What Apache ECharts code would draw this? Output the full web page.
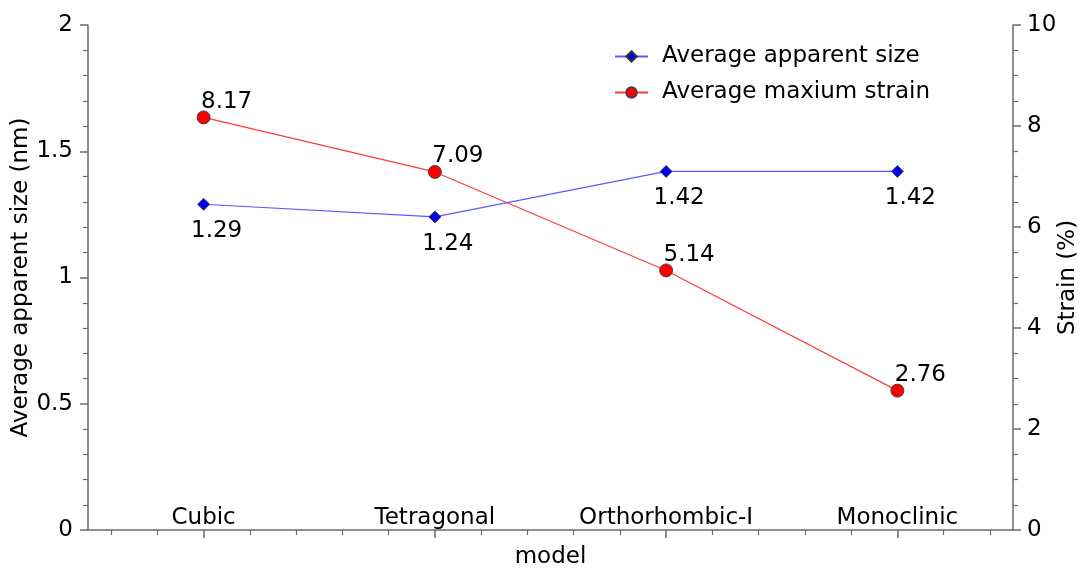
<!DOCTYPE html>
<html>
<head>
<meta charset="utf-8">
<script src="https://cdn.jsdelivr.net/npm/echarts@6/dist/echarts.min.js"></script>
<style>
  html, body { margin: 0; padding: 0; background: #fff; overflow: hidden; }
  #chart { width: 1079px; height: 570px; }
</style>
</head>
<body>
<div id="chart"></div>
<script>
// Crystal models on the x axis
const models = ['Cubic', 'Tetragonal', 'Orthorhombic-I', 'Monoclinic'];
// Average apparent size (nm), left axis
const apparentSize = [1.29, 1.24, 1.42, 1.42];
// Average maximum strain (%), right axis
const maxStrain = [8.17, 7.09, 5.14, 2.76];

const sizeTicks = { min: 0, max: 2, interval: 0.5 };
const strainTicks = { min: 0, max: 10, interval: 2 };

// Five sub-slots per model, used only to place the minor ticks on the x axis
const SUB = 5;
const subSlots = [];
models.forEach(function (m) { for (let k = 0; k < SUB; k++) subSlots.push(m + '-' + k); });

const FONT = 'DejaVu Sans';
const FS = 23;
const axisGray = '#6b6b6b';

const chart = echarts.init(document.getElementById('chart'), null, { renderer: 'canvas', width: 1079, height: 570 });

chart.setOption({
  animation: false,
  backgroundColor: '#ffffff',
  textStyle: { fontFamily: FONT, color: '#000' },
  grid: { left: 88, right: 66, top: 25, bottom: 40, containLabel: false, outerBoundsMode: 'none' },
  legend: {
    orient: 'vertical',
    left: 609,
    top: 40,
    itemWidth: 33,
    itemHeight: 13,
    itemGap: 13,
    textStyle: { fontFamily: FONT, fontSize: FS, color: '#000', padding: [0, 0, 0, 9] },
    data: ['Average apparent size', 'Average maxium strain']
  },
  xAxis: [
    {
      type: 'category',
      data: models,
      position: 'bottom',
      name: 'model',
      nameLocation: 'middle',
      nameGap: 16,
      nameMoveOverlap: false,
      nameTextStyle: { fontFamily: FONT, fontSize: FS, color: '#000' },
      axisLine: { show: true, lineStyle: { color: axisGray, width: 1.5 } },
      axisTick: { show: true, alignWithLabel: true, length: 8, lineStyle: { color: axisGray, width: 1.5 } },
      axisLabel: { inside: true, interval: 0, hideOverlap: false, margin: 0, fontFamily: FONT, fontSize: FS, color: '#000' },
      splitLine: { show: false }
    },
    {
      type: 'category',
      data: subSlots,
      position: 'bottom',
      axisLine: { show: false },
      axisTick: {
        show: true, alignWithLabel: true, length: 5,
        interval: function (i) { return i % SUB !== 2; },
        lineStyle: { color: axisGray, width: 1.2 }
      },
      axisLabel: { show: false },
      splitLine: { show: false }
    }
  ],
  yAxis: [
    {
      type: 'value',
      position: 'left',
      min: sizeTicks.min, max: sizeTicks.max, interval: sizeTicks.interval,
      name: 'Average apparent size (nm)',
      nameLocation: 'middle',
      nameGap: 55,
      nameMoveOverlap: false,
      nameTextStyle: { fontFamily: FONT, fontSize: FS, color: '#000' },
      axisLine: { show: true, lineStyle: { color: axisGray, width: 1.5 } },
      axisTick: { show: true, length: 8, lineStyle: { color: axisGray, width: 1.5 } },
      minorTick: { show: true, splitNumber: 5, length: 5, lineStyle: { color: axisGray, width: 1.2 } },
      axisLabel: { margin: 15, fontFamily: FONT, fontSize: FS, color: '#000' },
      splitLine: { show: false },
      minorSplitLine: { show: false }
    },
    {
      type: 'value',
      position: 'right',
      min: strainTicks.min, max: strainTicks.max, interval: strainTicks.interval,
      name: 'Strain (%)',
      nameLocation: 'middle',
      nameGap: 44,
      nameMoveOverlap: false,
      nameTextStyle: { fontFamily: FONT, fontSize: FS, color: '#000' },
      axisLine: { show: true, lineStyle: { color: axisGray, width: 1.5 } },
      axisTick: { show: true, length: 8, lineStyle: { color: axisGray, width: 1.5 } },
      minorTick: { show: true, splitNumber: 4, length: 5, lineStyle: { color: axisGray, width: 1.2 } },
      axisLabel: { margin: 14, fontFamily: FONT, fontSize: FS, color: '#000' },
      splitLine: { show: false },
      minorSplitLine: { show: false }
    }
  ],
  series: [
    {
      name: 'Average apparent size',
      type: 'line',
      xAxisIndex: 0,
      yAxisIndex: 0,
      data: apparentSize,
      symbol: 'diamond',
      symbolSize: 12,
      lineStyle: { color: '#5a5aff', width: 1.2 },
      itemStyle: { color: '#0000ee', borderColor: '#333', borderWidth: 0.8 },
      label: {
        show: true, position: 'bottom', distance: 9, offset: [13, 0],
        fontFamily: FONT, fontSize: FS, color: '#000'
      },
      z: 3
    },
    {
      name: 'Average maxium strain',
      type: 'line',
      xAxisIndex: 0,
      yAxisIndex: 1,
      data: maxStrain,
      symbol: 'circle',
      symbolSize: 13,
      lineStyle: { color: '#ff3b3b', width: 1.2 },
      itemStyle: { color: '#ff0000', borderColor: '#444', borderWidth: 1 },
      label: {
        show: true, position: 'top', distance: -3, offset: [23, 0],
        fontFamily: FONT, fontSize: FS, color: '#000'
      },
      z: 4
    }
  ]
});
</script>
</body>
</html>
